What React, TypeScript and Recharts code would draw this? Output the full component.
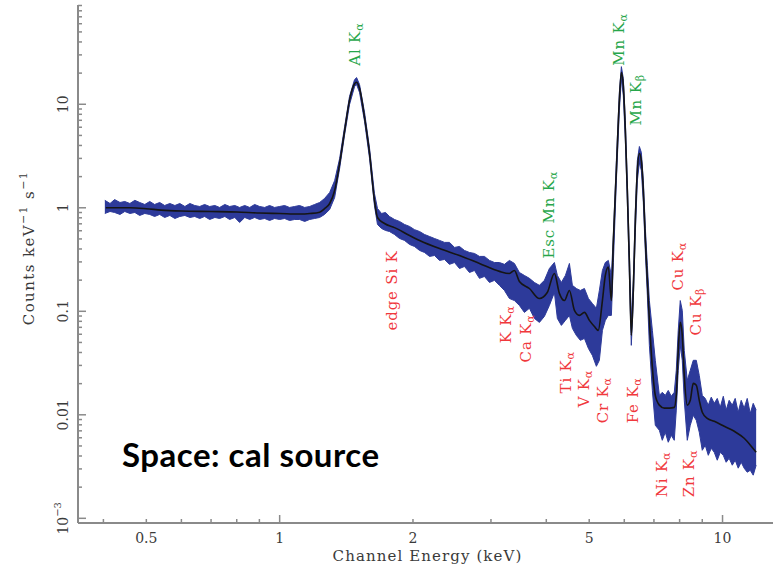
import React from "react";
import { Area, ComposedChart, Label, Line, ReferenceDot, XAxis, YAxis } from "recharts";

const WIDTH = 779;
const HEIGHT = 571;
const FRAME = "#8a8a8a";
const INK = "#3a3a3a";
const SERIF = "'DejaVu Serif', 'Liberation Serif', serif";
const DATA_BLUE = "#2d3a9a";
const SOURCE_GREEN = "#27a64a";
const CONTAM_RED = "#f0383c";

const X_DOMAIN = [0.3505, 13.0];
const Y_DOMAIN = [0.000901, 91];

// observed spectrum, blue points: lower / upper edge of the error bars (counts keV^-1 s^-1)
const bandEnergy = [
  0.403, 0.414, 0.424, 0.436, 0.447, 0.459, 0.471, 0.483, 0.496, 0.509,
  0.522, 0.536, 0.55, 0.565, 0.58, 0.595, 0.611, 0.627, 0.643, 0.66,
  0.677, 0.695, 0.714, 0.732, 0.752, 0.771, 0.792, 0.812, 0.834, 0.856,
  0.878, 0.901, 0.925, 0.949, 0.974, 1.0, 1.026, 1.053, 1.081, 1.109,
  1.139, 1.169, 1.199, 1.231, 1.263, 1.297, 1.331, 1.366, 1.402, 1.438,
  1.476, 1.492, 1.515, 1.555, 1.596, 1.637, 1.663, 1.698, 1.734, 1.77,
  1.817, 1.865, 1.914, 1.965, 2.016, 2.07, 2.124, 2.18, 2.237, 2.296,
  2.356, 2.418, 2.482, 2.547, 2.614, 2.683, 2.754, 2.826, 2.9, 2.977,
  3.055, 3.135, 3.218, 3.302, 3.389, 3.478, 3.57, 3.664, 3.76, 3.859,
  3.961, 4.065, 4.172, 4.237, 4.326, 4.418, 4.511, 4.581, 4.677, 4.775,
  4.877, 4.979, 5.083, 5.19, 5.271, 5.355, 5.437, 5.523, 5.611, 5.669,
  5.758, 5.848, 5.91, 5.97, 6.033, 6.095, 6.159, 6.223, 6.288, 6.355,
  6.422, 6.49, 6.557, 6.625, 6.695, 6.765, 6.836, 6.943, 7.05, 7.2,
  7.311, 7.426, 7.541, 7.66, 7.781, 7.863, 7.943, 8.027, 8.111, 8.196,
  8.325, 8.455, 8.589, 8.725, 8.861, 9.0, 9.141, 9.286, 9.43, 9.579,
  9.73, 9.881, 10.04, 10.19, 10.35, 10.52, 10.68, 10.85, 11.02, 11.19,
  11.37, 11.55, 11.73, 11.91,
];
const bandLow = [
  0.881, 0.921, 0.901, 0.862, 0.921, 0.881, 0.901, 0.843, 0.881, 0.862,
  0.824, 0.862, 0.806, 0.843, 0.788, 0.824, 0.843, 0.806, 0.824, 0.788,
  0.824, 0.771, 0.806, 0.788, 0.824, 0.771, 0.806, 0.721, 0.806, 0.771,
  0.806, 0.771, 0.788, 0.754, 0.788, 0.771, 0.788, 0.754, 0.771, 0.771,
  0.738, 0.771, 0.788, 0.806, 0.862, 0.963, 1.257, 2.4, 5.1, 9.93,
  14.8, 15.5, 13.0, 6.81, 2.99, 1.052, 0.69, 0.631, 0.604, 0.59,
  0.552, 0.505, 0.484, 0.442, 0.423, 0.387, 0.37, 0.339, 0.346, 0.31,
  0.317, 0.284, 0.296, 0.259, 0.271, 0.237, 0.248, 0.208, 0.217, 0.19,
  0.199, 0.178, 0.159, 0.133, 0.127, 0.114, 0.0976, 0.107, 0.0854, 0.0781,
  0.0893, 0.114, 0.152, 0.0854, 0.0731, 0.0817, 0.0913, 0.0684, 0.0585, 0.0524,
  0.0547, 0.0438, 0.0375, 0.0294, 0.0336, 0.0654, 0.0817, 0.0913, 0.0913, 0.296,
  1.83, 8.7, 17.7, 12.1, 4.46, 1.176, 0.237, 0.0469, 0.127, 0.578,
  1.83, 2.74, 2.29, 1.125, 0.37, 0.142, 0.0469, 0.0172, 0.00792, 0.00709,
  0.00567, 0.00678, 0.00543, 0.00634, 0.00567, 0.0111, 0.0269, 0.0469, 0.0336, 0.0138,
  0.00567, 0.00792, 0.00989, 0.00885, 0.00678, 0.00454, 0.00508, 0.00406, 0.00475, 0.00434,
  0.00364, 0.00434, 0.00406, 0.00348, 0.0038, 0.00326, 0.00364, 0.00305, 0.00348, 0.00305,
  0.00279, 0.00291, 0.00261, 0.00326,
];
const bandHigh = [
  1.18, 1.1, 1.2, 1.125, 1.15, 1.1, 1.18, 1.125, 1.076, 1.15,
  1.076, 1.125, 1.052, 1.1, 1.052, 1.1, 1.029, 1.1, 1.052, 1.029,
  1.076, 1.029, 1.052, 1.007, 1.076, 1.029, 1.052, 1.007, 1.052, 1.007,
  1.076, 1.029, 1.007, 1.052, 1.007, 1.029, 1.052, 1.007, 1.029, 1.052,
  1.007, 1.029, 1.076, 1.125, 1.23, 1.405, 1.83, 2.99, 6.09, 11.9,
  17.3, 18.1, 15.5, 8.32, 3.74, 1.374, 0.985, 0.881, 0.901, 0.824,
  0.771, 0.738, 0.69, 0.66, 0.615, 0.59, 0.552, 0.528, 0.505, 0.484,
  0.463, 0.463, 0.414, 0.423, 0.387, 0.37, 0.362, 0.339, 0.339, 0.31,
  0.296, 0.296, 0.284, 0.31, 0.29, 0.237, 0.222, 0.208, 0.19, 0.178,
  0.199, 0.259, 0.296, 0.222, 0.19, 0.222, 0.29, 0.178, 0.166, 0.159,
  0.166, 0.133, 0.119, 0.107, 0.159, 0.248, 0.296, 0.31, 0.222, 0.54,
  2.86, 13.0, 23.1, 17.7, 6.96, 1.83, 0.387, 0.0817, 0.199, 0.942,
  2.86, 3.91, 3.42, 1.83, 0.631, 0.277, 0.127, 0.0654, 0.0336, 0.0154,
  0.0165, 0.0154, 0.0172, 0.0151, 0.0165, 0.0269, 0.0654, 0.127, 0.102, 0.0419,
  0.0215, 0.0269, 0.0336, 0.0336, 0.024, 0.0154, 0.0144, 0.0124, 0.0148, 0.0129,
  0.0144, 0.0118, 0.0151, 0.0111, 0.0138, 0.0124, 0.0144, 0.0106, 0.0138, 0.0116,
  0.0144, 0.0103, 0.0129, 0.0111,
];

// best-fit model (black curve)
const modelEnergy = [
  0.405, 0.46, 0.5, 0.54, 0.6, 0.7, 0.8, 0.9, 1.0, 1.11,
  1.17, 1.231, 1.263, 1.297, 1.331, 1.366, 1.402, 1.438, 1.476, 1.492,
  1.515, 1.555, 1.596, 1.637, 1.663, 1.725, 1.817, 1.965, 2.07, 2.296,
  2.547, 2.826, 3.135, 3.302, 3.389, 3.478, 3.664, 3.859, 4.02, 4.172,
  4.282, 4.395, 4.511, 4.63, 4.752, 4.877, 5.005, 5.137, 5.24, 5.355,
  5.437, 5.523, 5.611, 5.669, 5.758, 5.848, 5.91, 5.97, 6.033, 6.095,
  6.159, 6.223, 6.288, 6.355, 6.422, 6.49, 6.557, 6.625, 6.695, 6.765,
  6.836, 6.943, 7.05, 7.2, 7.39, 7.585, 7.781, 7.863, 7.943, 8.027,
  8.111, 8.196, 8.325, 8.455, 8.589, 8.725, 8.861, 9.0, 9.237, 9.579,
  10.09, 10.63, 11.19, 11.61, 11.91,
];
const modelCounts = [
  1.0, 1.0, 0.98, 0.95, 0.93, 0.92, 0.91, 0.89, 0.88, 0.87,
  0.88, 0.907, 0.98, 1.1, 1.47, 2.68, 5.57, 10.9, 15.8, 16.3,
  14.2, 7.44, 3.34, 1.18, 0.806, 0.705, 0.643, 0.54, 0.484, 0.404,
  0.346, 0.29, 0.243, 0.232, 0.248, 0.194, 0.166, 0.133, 0.152, 0.232,
  0.149, 0.127, 0.159, 0.102, 0.0913, 0.0976, 0.0817, 0.0713, 0.0654, 0.127,
  0.222, 0.268, 0.127, 0.484, 2.29, 10.9, 20.2, 15.1, 5.57, 1.47,
  0.31, 0.0585, 0.159, 0.754, 2.29, 3.34, 2.86, 1.47, 0.484, 0.199,
  0.0817, 0.0287, 0.0154, 0.0124, 0.0116, 0.0116, 0.0118, 0.0154, 0.0419, 0.0781,
  0.0585, 0.024, 0.0124, 0.0138, 0.0201, 0.0193, 0.0138, 0.0106, 0.00925, 0.00866,
  0.00774, 0.00693, 0.00593, 0.00497, 0.00434,
];

// emission line labels: text, subscript, energy and the count level where the label starts
const lineText = ["Al K", "edge Si K", "Esc Mn K", "Mn K", "Mn K", "K K", "Ca K", "Ti K", "V K", "Cr K", "Fe K", "Ni K", "Cu K", "Zn K", "Cu K"];
const lineSub = ["α", "", "α", "α", "β", "α", "α", "α", "α", "α", "α", "α", "α", "α", "β"];
const lineEnergy = [1.476, 1.798, 4.065, 5.848, 6.388, 3.252, 3.608, 4.441, 4.877, 5.382, 6.288, 7.311, 7.943, 8.413, 8.725];
const lineCounts = [23.6, 0.0654, 0.324, 23.6, 6.23, 0.049, 0.0321, 0.0161, 0.0118, 0.00828, 0.00828, 0.0016, 0.159, 0.0016, 0.0585];
const lineFromSource = [true, false, true, true, true, false, false, false, false, false, false, false, false, false, false];

const xTicks = [0.4, 0.5, 0.6, 0.7, 0.8, 0.9, 1, 2, 3, 4, 5, 6, 7, 8, 9, 10];
const xTickLabelValues = [0.5, 1, 2, 5, 10];
const xTickLabels = ["0.5", "1", "2", "5", "10"];

const yTicks = [
  0.001, 0.002, 0.003, 0.004, 0.005, 0.006, 0.007, 0.008, 0.009,
  0.01, 0.02, 0.03, 0.04, 0.05, 0.06, 0.07, 0.08, 0.09,
  0.1, 0.2, 0.3, 0.4, 0.5, 0.6, 0.7, 0.8, 0.9,
  1, 2, 3, 4, 5, 6, 7, 8, 9,
  10, 20, 30, 40, 50, 60, 70, 80, 90,
];
const yTickLabelValues = [0.001, 0.01, 0.1, 1, 10];
const yTickLabels = ["10^−3", "0.01", "0.1", "1", "10"];

const bandData = bandEnergy.map((energy, i) => ({ energy, range: [bandLow[i], bandHigh[i]] }));
const modelData = modelEnergy.map((energy, i) => ({ energy, counts: modelCounts[i] }));

const MAJOR = 8;
const MINOR = 4;
const isDecade = (v: number) => Math.abs(Math.log10(v) - Math.round(Math.log10(v))) < 1e-6;

function BottomTick(props: any) {
  const { x, y, payload } = props;
  const i = xTickLabelValues.indexOf(payload.value);
  const len = isDecade(payload.value) ? MAJOR : MINOR;
  return (
    <g>
      <line x1={x} x2={x} y1={y} y2={y - len} stroke={FRAME} strokeWidth={1.5} />
      {i >= 0 && (
        <text x={x} y={y + 20} textAnchor="middle" fontFamily={SERIF} fontSize={14} fill={INK}>
          {xTickLabels[i]}
        </text>
      )}
    </g>
  );
}

function TopTick(props: any) {
  const { x, y, payload } = props;
  const len = isDecade(payload.value) ? MAJOR : MINOR;
  return <line x1={x} x2={x} y1={y} y2={y + len} stroke={FRAME} strokeWidth={1.5} />;
}

function LeftTick(props: any) {
  const { x, y, payload } = props;
  const i = yTickLabelValues.indexOf(payload.value);
  const len = isDecade(payload.value) ? MAJOR : MINOR;
  const tx = x - 15;
  let label: React.ReactNode = null;
  if (i >= 0) {
    const [base, power] = yTickLabels[i].split("^");
    label = (
      <text
        x={tx}
        y={y}
        transform={`rotate(-90 ${tx} ${y})`}
        textAnchor="middle"
        dominantBaseline="central"
        fontFamily={SERIF}
        fontSize={14}
        fill={INK}
      >
        {base}
        {power && (
          <tspan dy={-6} fontSize={10}>
            {power}
          </tspan>
        )}
      </text>
    );
  }
  return (
    <g>
      <line x1={x} x2={x + len} y1={y} y2={y} stroke={FRAME} strokeWidth={1.5} />
      {label}
    </g>
  );
}

function RightTick(props: any) {
  const { x, y, payload } = props;
  const len = isDecade(payload.value) ? MAJOR : MINOR;
  return <line x1={x} x2={x - len} y1={y} y2={y} stroke={FRAME} strokeWidth={1.5} />;
}

function XTitle({ viewBox }: any) {
  return (
    <text
      x={viewBox.x + viewBox.width / 2 + 2}
      y={viewBox.y + 38}
      textAnchor="middle"
      fontFamily={SERIF}
      fontSize={15}
      letterSpacing={1.1}
      fill={INK}
    >
      Channel Energy (keV)
    </text>
  );
}

function YTitle({ viewBox }: any) {
  const cx = viewBox.x + 29;
  const cy = viewBox.y + viewBox.height / 2 - 16;
  return (
    <text
      x={cx}
      y={cy}
      transform={`rotate(-90 ${cx} ${cy})`}
      textAnchor="middle"
      dominantBaseline="central"
      fontFamily={SERIF}
      fontSize={15}
      letterSpacing={1.4}
      fill={INK}
    >
      Counts keV
      <tspan dy={-6} fontSize={11}>−1</tspan>
      <tspan dy={6}>{"\u00a0s"}</tspan>
      <tspan dy={-6} fontSize={11}>−1</tspan>
    </text>
  );
}

function lineLabel(i: number) {
  const color = lineFromSource[i] ? SOURCE_GREEN : CONTAM_RED;
  return (props: any) => {
    const { cx, cy } = props;
    return (
      <text
        x={cx}
        y={cy}
        transform={`rotate(-90 ${cx} ${cy})`}
        textAnchor="start"
        dominantBaseline="central"
        fontFamily={SERIF}
        fontSize={15}
        letterSpacing={0.8}
        fill={color}
      >
        {lineText[i]}
        {lineSub[i] && (
          <tspan dy={4} fontSize={11}>
            {lineSub[i]}
          </tspan>
        )}
      </text>
    );
  };
}

export default function App() {
  const frameLine = { stroke: FRAME, strokeWidth: 2 };
  return (
    <div style={{ position: "absolute", left: 0, top: 0, width: WIDTH, height: HEIGHT, background: "#fff" }}>
      <ComposedChart width={WIDTH} height={HEIGHT} margin={{ top: 5, right: 6, bottom: 0, left: 0 }}>
        <XAxis
          xAxisId="bottom"
          dataKey="energy"
          type="number"
          scale="log"
          domain={X_DOMAIN}
          allowDataOverflow
          ticks={xTicks}
          interval={0}
          tickSize={0}
          tickMargin={0}
          tickLine={false}
          tick={BottomTick}
          axisLine={frameLine}
          height={48}
        >
          <Label content={XTitle} />
        </XAxis>
        <XAxis
          xAxisId="top"
          orientation="top"
          dataKey="energy"
          type="number"
          scale="log"
          domain={X_DOMAIN}
          allowDataOverflow
          ticks={xTicks}
          interval={0}
          tickSize={0}
          tickMargin={0}
          tickLine={false}
          tick={TopTick}
          axisLine={frameLine}
          height={0}
        />
        <YAxis
          yAxisId="left"
          type="number"
          scale="log"
          domain={Y_DOMAIN}
          allowDataOverflow
          ticks={yTicks}
          interval={0}
          tickSize={0}
          tickMargin={0}
          tickLine={false}
          tick={LeftTick}
          axisLine={frameLine}
          width={78}
        >
          <Label content={YTitle} />
        </YAxis>
        <YAxis
          yAxisId="right"
          orientation="right"
          type="number"
          scale="log"
          domain={Y_DOMAIN}
          allowDataOverflow
          ticks={yTicks}
          interval={0}
          tickSize={0}
          tickMargin={0}
          tickLine={false}
          tick={RightTick}
          axisLine={frameLine}
          width={0}
        />
        <Area
          xAxisId="bottom"
          yAxisId="left"
          data={bandData}
          dataKey="range"
          type="linear"
          stroke={DATA_BLUE}
          strokeWidth={1}
          fill={DATA_BLUE}
          fillOpacity={1}
          dot={false}
          activeDot={false}
          isAnimationActive={false}
        />
        <Line
          xAxisId="bottom"
          yAxisId="left"
          data={modelData}
          dataKey="counts"
          type="monotone"
          stroke="#151515"
          strokeWidth={1.6}
          dot={false}
          activeDot={false}
          isAnimationActive={false}
        />
        {lineText.map((t, i) => (
          <ReferenceDot
            key={`${t}-${i}`}
            xAxisId="bottom"
            yAxisId="left"
            x={lineEnergy[i]}
            y={lineCounts[i]}
            r={0}
            ifOverflow="visible"
            shape={lineLabel(i)}
          />
        ))}
      </ComposedChart>
      <svg width={WIDTH} height={HEIGHT} style={{ position: "absolute", left: 0, top: 0, pointerEvents: "none" }}>
        <text
          x={122}
          y={467}
          fontFamily="Lato, 'Open Sans', sans-serif"
          fontWeight={700}
          fontSize={33}
          letterSpacing={0.5}
          fill="#000"
        >
          Space: cal source
        </text>
      </svg>
    </div>
  );
}
